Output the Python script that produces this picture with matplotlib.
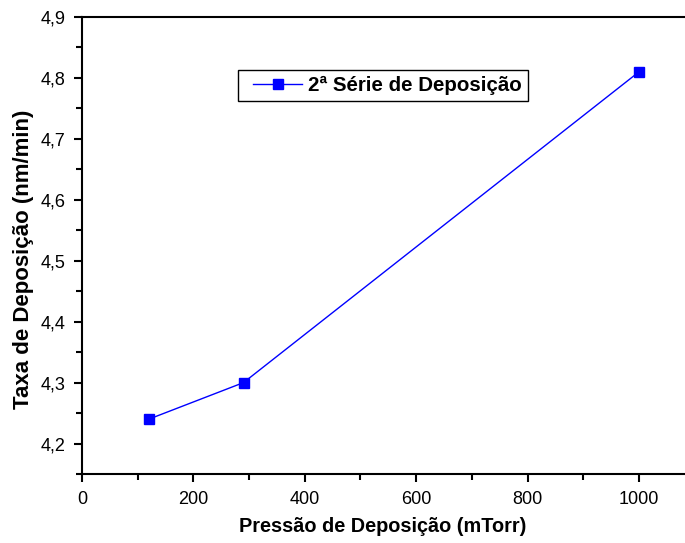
import matplotlib.pyplot as plt
from matplotlib.ticker import MultipleLocator, FuncFormatter
from matplotlib.legend_handler import HandlerLine2D

plt.rcParams['font.family'] = ['Liberation Sans', 'DejaVu Sans']

pressao = [120, 290, 1000]
taxa = [4.24, 4.30, 4.81]
serie = "2ª Série de Deposição"


# handle drawn a bit to the right inside its box, like the original legend
class ShiftedLine(HandlerLine2D):
    def create_artists(self, legend, orig_handle, xdescent, ydescent,
                       width, height, fontsize, trans):
        s = 6.5
        return super().create_artists(legend, orig_handle, xdescent - s, ydescent,
                                      width - s, height, fontsize, trans)


fig = plt.figure(figsize=(6.85, 5.43), dpi=100)
ax = fig.add_axes([82 / 685, 69 / 543, 606 / 685, 457 / 543])

line, = ax.plot(pressao, taxa, color='#0000ff', lw=1, marker='s', markersize=7,
                label=serie)

ax.set_xlim(0, 1088)
ax.set_ylim(4.15, 4.9)
ax.xaxis.set_major_locator(MultipleLocator(200))
ax.xaxis.set_minor_locator(MultipleLocator(100))
ax.yaxis.set_major_locator(MultipleLocator(0.1))
ax.yaxis.set_minor_locator(MultipleLocator(0.05))
ax.yaxis.set_major_formatter(FuncFormatter(lambda v, p: "{:.1f}".format(v).replace('.', ',')))

for s in ax.spines.values():
    s.set_linewidth(1.5)
ax.tick_params(which='major', direction='out', length=6, width=1.5, labelsize=13, pad=6)
ax.tick_params(which='minor', direction='out', length=4, width=1.5)

fig.text(383 / 685, 1 - 527 / 543, "Pressão de Deposição (mTorr)", fontsize=14.3,
         fontweight='bold', ha='center', va='center')
fig.text(24 / 685, 1 - 259 / 543, "Taxa de Deposição (nm/min)", fontsize=16,
         fontweight='bold', ha='center', va='center', rotation=90)

leg = ax.legend(loc='upper left', bbox_to_anchor=(238 / 685, 1 - 70 / 543),
                bbox_transform=fig.transFigure, fancybox=False, framealpha=1,
                edgecolor='black', prop={'weight': 'bold', 'size': 14.8},
                handlelength=2.82, borderpad=0.3, handletextpad=0.3,
                borderaxespad=0, handler_map={line: ShiftedLine()})
leg.get_frame().set_linewidth(1.0)

fig.savefig("out.png", dpi=100)
